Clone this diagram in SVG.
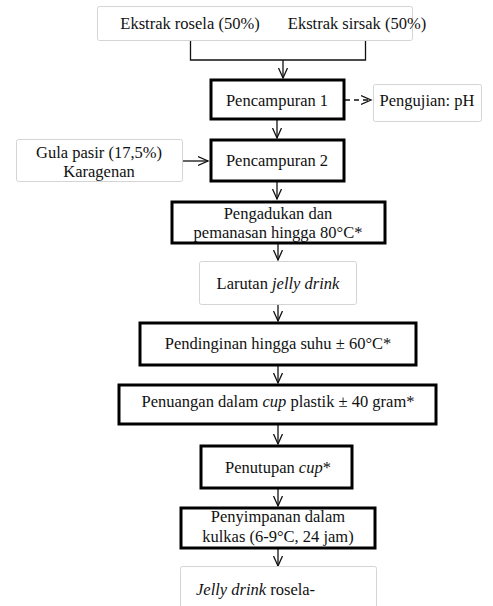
<svg xmlns="http://www.w3.org/2000/svg" width="493" height="606" viewBox="0 0 493 606" font-family="'Liberation Serif', 'DejaVu Serif', serif">
<defs>
<marker id="arr" markerWidth="12" markerHeight="12" refX="10" refY="6" orient="auto" markerUnits="userSpaceOnUse" viewBox="0 0 12 12">
<path d="M0,1.5 L10,6 L0,10.5" fill="none" stroke="#111" stroke-width="1.3"/>
</marker>
</defs>
<style>
text{font-family:'Liberation Serif','DejaVu Serif',serif;font-size:16.5px;fill:#111;text-anchor:middle}
.thick{fill:#fff;stroke:#000;stroke-width:3}
.light{fill:#fff;stroke:#d4d4d4;stroke-width:1}
.ln{fill:none;stroke:#111;stroke-width:1.3}
.it{font-style:italic}
</style>
<rect width="493" height="606" fill="#fff"/>
<g id="connectors">
<polyline class="ln" points="190.5,40 190.5,60 365.5,60 365.5,40"/>
<line class="ln" x1="283" y1="60" x2="283" y2="78" marker-end="url(#arr)"/>
<line class="ln" x1="345" y1="100" x2="371" y2="100" stroke-dasharray="5,4" marker-end="url(#arr)"/>
<line class="ln" x1="277" y1="120" x2="277" y2="138" marker-end="url(#arr)"/>
<line class="ln" x1="183" y1="161" x2="208" y2="161" marker-end="url(#arr)"/>
<line class="ln" x1="277" y1="182" x2="277" y2="199" marker-end="url(#arr)"/>
<line class="ln" x1="278" y1="244" x2="278" y2="260" marker-end="url(#arr)"/>
<line class="ln" x1="278" y1="305" x2="278" y2="321" marker-end="url(#arr)"/>
<line class="ln" x1="278" y1="366" x2="278" y2="383" marker-end="url(#arr)"/>
<line class="ln" x1="278" y1="425" x2="278" y2="444" marker-end="url(#arr)"/>
<line class="ln" x1="278" y1="489" x2="278" y2="506" marker-end="url(#arr)"/>
<line class="ln" x1="278" y1="549" x2="278" y2="566" marker-end="url(#arr)"/>
</g>
<g id="ekstrak">
<rect class="light" x="97.5" y="6.5" width="315" height="34" rx="2"/>
<text x="190" y="29">Ekstrak rosela (50%)</text>
<text x="357" y="29">Ekstrak sirsak (50%)</text>
</g>
<g id="pencampuran1">
<rect class="thick" x="211" y="80" width="133" height="39"/>
<text x="277" y="106">Pencampuran 1</text>
</g>
<g id="pengujian">
<rect class="light" x="373.5" y="84.5" width="108" height="37" rx="2"/>
<text x="427" y="106">Pengujian: pH</text>
</g>
<g id="gula">
<rect class="light" x="16.5" y="139.5" width="166" height="42" rx="2"/>
<text x="99" y="158">Gula pasir (17,5%)</text>
<text x="99" y="177">Karagenan</text>
</g>
<g id="pencampuran2">
<rect class="thick" x="211" y="140" width="133" height="41"/>
<text x="277" y="166">Pencampuran 2</text>
</g>
<g id="pengadukan">
<rect class="thick" x="172" y="202" width="213" height="41"/>
<text x="278" y="219">Pengadukan dan</text>
<text x="278" y="238">pemanasan hingga 80°C*</text>
</g>
<g id="larutan">
<rect class="light" x="199.5" y="261.5" width="157" height="43" rx="2"/>
<text x="278" y="289">Larutan <tspan class="it">jelly drink</tspan></text>
</g>
<g id="pendinginan">
<rect class="thick" x="140" y="323" width="276" height="42"/>
<text x="278" y="349">Pendinginan hingga suhu ± 60°C*</text>
</g>
<g id="penuangan">
<rect class="thick" x="119" y="385" width="317" height="39"/>
<text x="278" y="407">Penuangan dalam <tspan class="it">cup</tspan> plastik ± 40 gram*</text>
</g>
<g id="penutupan">
<rect class="thick" x="201" y="446" width="151" height="42"/>
<text x="278" y="473">Penutupan <tspan class="it">cup</tspan>*</text>
</g>
<g id="penyimpanan">
<rect class="thick" x="181" y="508" width="194" height="40"/>
<text x="278" y="522">Penyimpanan dalam</text>
<text x="278" y="542">kulkas (6-9°C, 24 jam)</text>
</g>
<g id="jelly">
<rect class="light" x="180.5" y="566.5" width="196" height="50" rx="2"/>
<text x="196" y="595" style="text-anchor:start"><tspan class="it">Jelly drink</tspan> rosela-</text>
</g>
</svg>
